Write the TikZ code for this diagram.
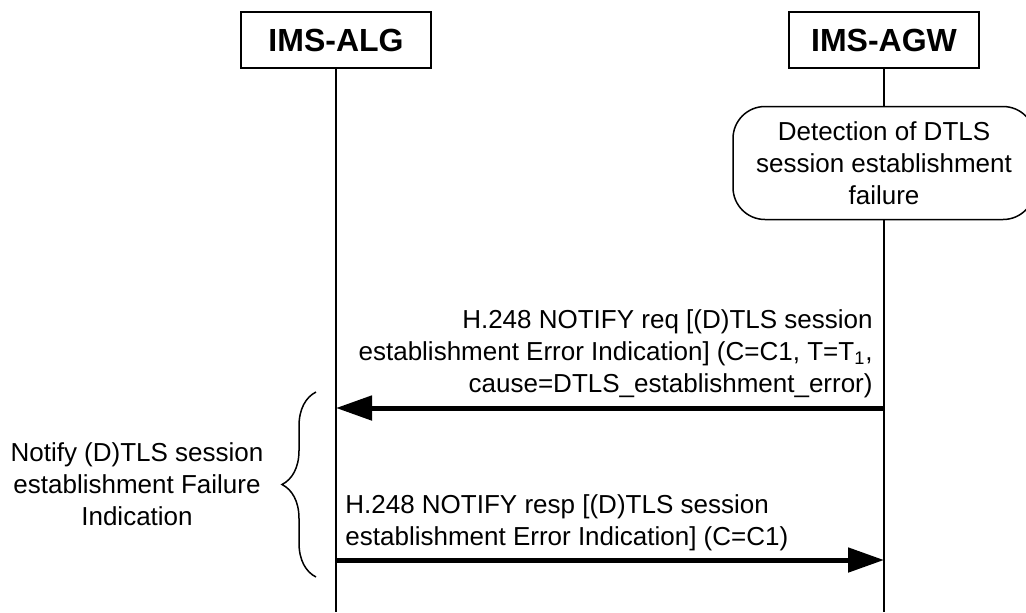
\documentclass[tikz,border=0pt]{standalone}
\usepackage{fontspec}
\setmainfont{Liberation Sans}
\usetikzlibrary{arrows.meta,decorations.pathreplacing}

\begin{document}
\begin{tikzpicture}[x=0.5pt,y=-0.5pt,
  entity/.style={draw,line width=0.75pt,minimum width=95pt,minimum height=28pt,
    inner sep=0pt,font=\fontsize{16}{19}\selectfont\bfseries},
  lifeline/.style={line width=0.75pt},
  msgtext/.style={inner sep=0pt,font=\fontsize{13}{16}\selectfont},
  msgarrow/.style={line width=2.5pt,-{Triangle[length=18pt,width=12pt]}}
]
  \useasboundingbox (0,0) rectangle (1026,612);
  % Entities
  \node[entity] (alg) at (336,40) {IMS-ALG};
  \node[entity] (agw) at (884,40) {IMS-AGW};
  % Lifelines
  \coordinate (algend) at (336,612);
  \coordinate (agwend) at (884,612);
  \draw[lifeline] (alg.south) -- (algend);
  \draw[lifeline] (agw.south) -- (agwend);
  % Detection box
  \node[draw,line width=0.75pt,fill=white,rounded corners=16pt,minimum width=151pt,
    minimum height=56.5pt,align=center,msgtext] (detect) at (884,163)
    {Detection of DTLS\\session establishment\\failure};
  % Messages
  \node[msgtext,align=right,anchor=south east] (req) at (873,398)
    {H.248 NOTIFY req [(D)TLS session\\
     establishment Error Indication] (C=C1, T=T\textsubscript{1},\\
     cause=DTLS\_establishment\_error)};
  \coordinate (agwreq) at (884,408);
  \coordinate (algreq) at (336,408);
  \draw[msgarrow] (agwreq) -- (algreq);
  \node[msgtext,align=left,anchor=south west] (resp) at (345,551)
    {H.248 NOTIFY resp [(D)TLS session\\
     establishment Error Indication] (C=C1)};
  \coordinate (algresp) at (336,560);
  \coordinate (agwresp) at (884,560);
  \draw[msgarrow] (algresp) -- (agwresp);
  % Brace and label
  \coordinate (bracetop) at (316,392);
  \coordinate (bracebot) at (316,577);
  \draw[line width=0.75pt,decorate,decoration={brace,amplitude=17pt}] (bracebot) -- (bracetop);
  \node[msgtext,align=center] (notify) at (137,484)
    {Notify (D)TLS session\\establishment Failure\\Indication};
\end{tikzpicture}
\end{document}
